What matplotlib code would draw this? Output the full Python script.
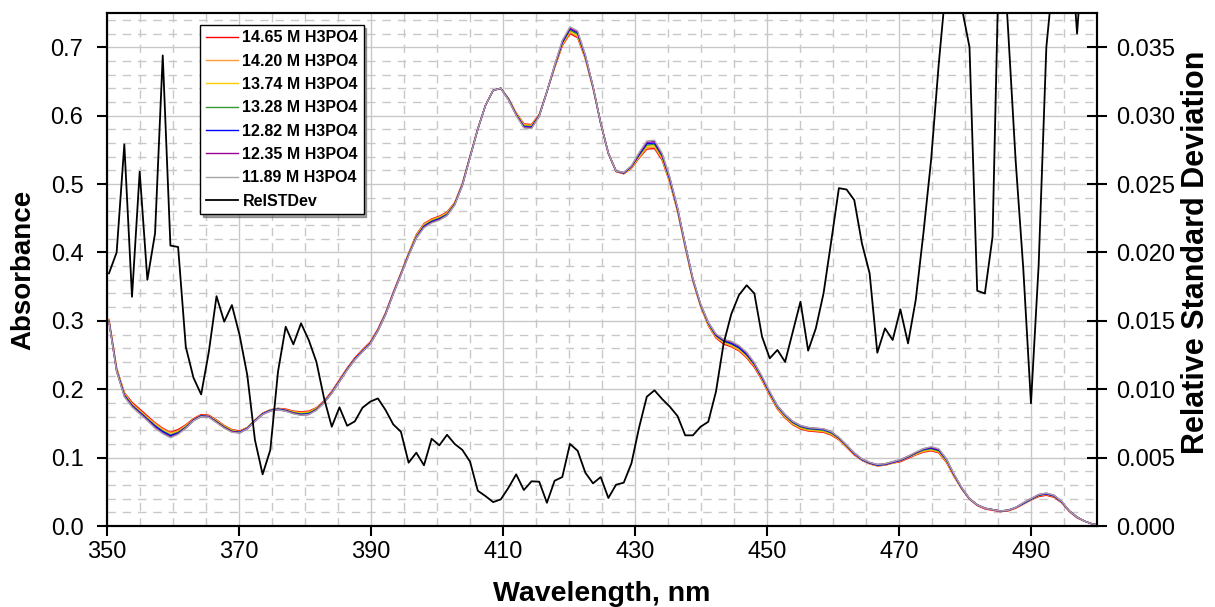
import numpy as np
import matplotlib.pyplot as plt
from matplotlib.ticker import MultipleLocator, FormatStrFormatter

plt.rcParams['font.family'] = ['Liberation Sans', 'DejaVu Sans']

# wavelength grid of the spectrometer, 130 points about 1.164 nm apart
wavelength = np.linspace(350.29, 500.47, 130)

series_labels = ['14.65 M H3PO4', '14.20 M H3PO4', '13.74 M H3PO4', '13.28 M H3PO4',
                 '12.82 M H3PO4', '12.35 M H3PO4', '11.89 M H3PO4']
series_colors = ['#ff0000', '#ff9933', '#ffcc00', '#339933', '#0000ff', '#990099', '#a6a6a6']

abs_1465 = [0.302, 0.231, 0.195, 0.181, 0.171, 0.161, 0.151, 0.143, 0.137, 0.141,
            0.148, 0.157, 0.163, 0.162, 0.155, 0.147, 0.141, 0.139, 0.144, 0.155,
            0.165, 0.170, 0.172, 0.171, 0.168, 0.167, 0.168, 0.173, 0.183, 0.197,
            0.214, 0.231, 0.246, 0.258, 0.269, 0.288, 0.312, 0.342, 0.370, 0.399,
            0.426, 0.442, 0.449, 0.453, 0.459, 0.473, 0.501, 0.541, 0.581, 0.615,
            0.637, 0.640, 0.625, 0.604, 0.588, 0.587, 0.602, 0.635, 0.670, 0.702,
            0.720, 0.714, 0.683, 0.640, 0.588, 0.544, 0.518, 0.515, 0.523, 0.538,
            0.551, 0.552, 0.535, 0.502, 0.460, 0.407, 0.358, 0.321, 0.293, 0.275,
            0.266, 0.262, 0.256, 0.246, 0.232, 0.213, 0.191, 0.171, 0.158, 0.148,
            0.142, 0.139, 0.138, 0.137, 0.133, 0.126, 0.115, 0.104, 0.096, 0.091,
            0.088, 0.089, 0.092, 0.094, 0.099, 0.104, 0.108, 0.110, 0.107, 0.093,
            0.072, 0.054, 0.039, 0.030, 0.025, 0.023, 0.021, 0.022, 0.026, 0.032,
            0.038, 0.043, 0.045, 0.042, 0.034, 0.021, 0.012, 0.007, 0.003, 0.001]

abs_1420 = [0.301, 0.230, 0.194, 0.179, 0.169, 0.159, 0.150, 0.142, 0.136, 0.139,
            0.147, 0.156, 0.162, 0.161, 0.154, 0.146, 0.140, 0.138, 0.144, 0.155,
            0.165, 0.170, 0.172, 0.170, 0.167, 0.166, 0.167, 0.172, 0.182, 0.196,
            0.213, 0.230, 0.245, 0.257, 0.268, 0.287, 0.311, 0.341, 0.369, 0.398,
            0.425, 0.441, 0.448, 0.452, 0.458, 0.472, 0.500, 0.541, 0.580, 0.615,
            0.637, 0.640, 0.625, 0.603, 0.587, 0.586, 0.601, 0.635, 0.671, 0.703,
            0.722, 0.716, 0.684, 0.641, 0.589, 0.545, 0.519, 0.515, 0.524, 0.539,
            0.553, 0.554, 0.537, 0.503, 0.461, 0.408, 0.359, 0.322, 0.294, 0.276,
            0.268, 0.263, 0.257, 0.247, 0.234, 0.214, 0.192, 0.172, 0.159, 0.149,
            0.143, 0.140, 0.139, 0.138, 0.134, 0.127, 0.116, 0.105, 0.096, 0.091,
            0.088, 0.089, 0.092, 0.095, 0.100, 0.105, 0.109, 0.111, 0.108, 0.094,
            0.073, 0.054, 0.040, 0.031, 0.026, 0.024, 0.022, 0.023, 0.027, 0.032,
            0.038, 0.044, 0.046, 0.043, 0.034, 0.022, 0.013, 0.007, 0.003, 0.001]

abs_1374 = [0.301, 0.229, 0.193, 0.178, 0.168, 0.158, 0.148, 0.140, 0.134, 0.138,
            0.146, 0.155, 0.161, 0.160, 0.154, 0.146, 0.140, 0.137, 0.143, 0.154,
            0.164, 0.169, 0.171, 0.169, 0.167, 0.165, 0.166, 0.172, 0.181, 0.195,
            0.212, 0.229, 0.244, 0.256, 0.267, 0.286, 0.310, 0.340, 0.368, 0.398,
            0.424, 0.440, 0.447, 0.451, 0.457, 0.472, 0.499, 0.540, 0.580, 0.615,
            0.637, 0.640, 0.624, 0.603, 0.586, 0.585, 0.600, 0.635, 0.671, 0.705,
            0.723, 0.717, 0.685, 0.642, 0.589, 0.545, 0.519, 0.516, 0.524, 0.541,
            0.555, 0.556, 0.538, 0.505, 0.462, 0.409, 0.359, 0.322, 0.295, 0.277,
            0.269, 0.265, 0.259, 0.249, 0.235, 0.215, 0.193, 0.173, 0.160, 0.150,
            0.144, 0.141, 0.140, 0.139, 0.135, 0.127, 0.116, 0.106, 0.097, 0.092,
            0.089, 0.090, 0.093, 0.096, 0.101, 0.105, 0.110, 0.112, 0.109, 0.095,
            0.073, 0.055, 0.040, 0.031, 0.026, 0.024, 0.022, 0.023, 0.027, 0.033,
            0.039, 0.045, 0.047, 0.044, 0.035, 0.022, 0.013, 0.007, 0.003, 0.001]

abs_1328 = [0.300, 0.228, 0.192, 0.177, 0.167, 0.157, 0.147, 0.139, 0.133, 0.137,
            0.145, 0.155, 0.161, 0.160, 0.153, 0.145, 0.139, 0.137, 0.143, 0.154,
            0.164, 0.169, 0.171, 0.169, 0.166, 0.164, 0.165, 0.171, 0.181, 0.195,
            0.212, 0.229, 0.244, 0.256, 0.267, 0.286, 0.310, 0.340, 0.368, 0.397,
            0.423, 0.439, 0.446, 0.450, 0.456, 0.471, 0.499, 0.540, 0.580, 0.615,
            0.637, 0.640, 0.624, 0.602, 0.585, 0.584, 0.600, 0.635, 0.672, 0.706,
            0.725, 0.719, 0.686, 0.642, 0.589, 0.545, 0.519, 0.516, 0.525, 0.542,
            0.557, 0.558, 0.540, 0.506, 0.463, 0.410, 0.360, 0.323, 0.296, 0.278,
            0.270, 0.266, 0.260, 0.250, 0.236, 0.216, 0.194, 0.174, 0.161, 0.151,
            0.145, 0.142, 0.141, 0.140, 0.136, 0.128, 0.117, 0.106, 0.097, 0.092,
            0.089, 0.090, 0.093, 0.096, 0.101, 0.106, 0.111, 0.113, 0.110, 0.096,
            0.074, 0.055, 0.040, 0.031, 0.026, 0.024, 0.022, 0.023, 0.027, 0.033,
            0.039, 0.045, 0.047, 0.044, 0.035, 0.022, 0.013, 0.007, 0.003, 0.001]

abs_1282 = [0.299, 0.227, 0.191, 0.176, 0.166, 0.156, 0.146, 0.138, 0.132, 0.136,
            0.144, 0.155, 0.161, 0.160, 0.152, 0.144, 0.138, 0.137, 0.143, 0.154,
            0.164, 0.169, 0.171, 0.169, 0.165, 0.163, 0.164, 0.170, 0.181, 0.195,
            0.212, 0.229, 0.244, 0.256, 0.267, 0.286, 0.310, 0.340, 0.368, 0.396,
            0.422, 0.438, 0.445, 0.449, 0.455, 0.470, 0.499, 0.540, 0.580, 0.615,
            0.637, 0.640, 0.624, 0.601, 0.584, 0.583, 0.600, 0.635, 0.673, 0.707,
            0.727, 0.721, 0.687, 0.642, 0.589, 0.545, 0.519, 0.516, 0.526, 0.543,
            0.559, 0.560, 0.542, 0.507, 0.464, 0.411, 0.361, 0.324, 0.297, 0.279,
            0.271, 0.267, 0.261, 0.251, 0.237, 0.217, 0.195, 0.175, 0.162, 0.152,
            0.146, 0.143, 0.142, 0.141, 0.137, 0.129, 0.118, 0.106, 0.097, 0.092,
            0.089, 0.090, 0.093, 0.096, 0.101, 0.107, 0.112, 0.114, 0.111, 0.097,
            0.075, 0.055, 0.040, 0.031, 0.026, 0.024, 0.022, 0.023, 0.027, 0.033,
            0.039, 0.045, 0.047, 0.044, 0.035, 0.022, 0.013, 0.007, 0.003, 0.001]

abs_1235 = [0.299, 0.226, 0.190, 0.175, 0.165, 0.155, 0.144, 0.136, 0.130, 0.135,
            0.143, 0.154, 0.160, 0.159, 0.152, 0.144, 0.138, 0.136, 0.142, 0.153,
            0.163, 0.168, 0.170, 0.168, 0.165, 0.162, 0.163, 0.170, 0.180, 0.194,
            0.211, 0.228, 0.243, 0.255, 0.266, 0.285, 0.309, 0.339, 0.367, 0.396,
            0.421, 0.437, 0.444, 0.448, 0.454, 0.470, 0.498, 0.539, 0.580, 0.615,
            0.637, 0.640, 0.623, 0.601, 0.583, 0.582, 0.599, 0.635, 0.673, 0.709,
            0.728, 0.722, 0.688, 0.643, 0.589, 0.545, 0.519, 0.517, 0.526, 0.545,
            0.561, 0.562, 0.543, 0.509, 0.465, 0.412, 0.361, 0.324, 0.298, 0.280,
            0.272, 0.269, 0.263, 0.253, 0.238, 0.218, 0.196, 0.176, 0.163, 0.153,
            0.147, 0.144, 0.143, 0.142, 0.138, 0.129, 0.118, 0.107, 0.098, 0.093,
            0.090, 0.091, 0.094, 0.097, 0.102, 0.107, 0.113, 0.115, 0.112, 0.098,
            0.075, 0.056, 0.040, 0.031, 0.026, 0.024, 0.022, 0.023, 0.027, 0.034,
            0.040, 0.046, 0.048, 0.045, 0.036, 0.022, 0.013, 0.007, 0.003, 0.001]

abs_1189 = [0.298, 0.226, 0.189, 0.174, 0.164, 0.154, 0.143, 0.135, 0.129, 0.134,
            0.143, 0.154, 0.160, 0.159, 0.151, 0.143, 0.137, 0.136, 0.142, 0.153,
            0.163, 0.168, 0.170, 0.168, 0.164, 0.162, 0.163, 0.169, 0.180, 0.194,
            0.211, 0.228, 0.243, 0.255, 0.266, 0.285, 0.309, 0.339, 0.367, 0.395,
            0.421, 0.436, 0.443, 0.447, 0.454, 0.469, 0.498, 0.539, 0.580, 0.615,
            0.637, 0.640, 0.623, 0.600, 0.582, 0.581, 0.599, 0.635, 0.674, 0.710,
            0.730, 0.724, 0.689, 0.643, 0.589, 0.545, 0.519, 0.517, 0.527, 0.546,
            0.563, 0.564, 0.545, 0.510, 0.466, 0.412, 0.362, 0.325, 0.298, 0.281,
            0.273, 0.270, 0.264, 0.254, 0.239, 0.219, 0.197, 0.176, 0.163, 0.153,
            0.147, 0.144, 0.143, 0.142, 0.138, 0.130, 0.119, 0.107, 0.098, 0.093,
            0.090, 0.091, 0.094, 0.097, 0.102, 0.108, 0.113, 0.116, 0.113, 0.098,
            0.076, 0.056, 0.040, 0.031, 0.026, 0.024, 0.022, 0.023, 0.027, 0.034,
            0.040, 0.046, 0.048, 0.045, 0.036, 0.022, 0.013, 0.007, 0.003, 0.001]

rel_std_dev = [0.01847, 0.0200, 0.0279, 0.01676, 0.0259, 0.0180, 0.0214, 0.0344, 0.0205, 0.0204,
               0.0131, 0.01084, 0.00962, 0.01274, 0.0168, 0.01494, 0.01615, 0.01396, 0.01104, 0.00629,
               0.00378, 0.00556, 0.01128, 0.01457, 0.01328, 0.01482, 0.0136, 0.0120, 0.00933, 0.00726,
               0.00868, 0.00733, 0.00765, 0.00865, 0.00909, 0.00933, 0.00848, 0.00743, 0.00689, 0.00463,
               0.00536, 0.00444, 0.00638, 0.0059, 0.00667, 0.0060, 0.00556, 0.0047, 0.00258, 0.00219,
               0.00175, 0.00195, 0.0028, 0.00378, 0.00263, 0.00327, 0.00324, 0.0017, 0.00331, 0.00358,
               0.0060, 0.0055, 0.0039, 0.00312, 0.00358, 0.00205, 0.00302, 0.00317, 0.00458, 0.00721,
               0.00945, 0.00992, 0.00928, 0.00872, 0.00804, 0.00663, 0.00663, 0.00726, 0.00762, 0.00982,
               0.01335, 0.0155, 0.01689, 0.0176, 0.0170, 0.01384, 0.01226, 0.01287, 0.0120, 0.0142,
               0.0164, 0.01282, 0.01445, 0.0170, 0.0208, 0.0247, 0.0246, 0.02383, 0.02066, 0.01847,
               0.01267, 0.01445, 0.0136, 0.01584, 0.01335, 0.01652, 0.0214, 0.02675, 0.0338, 0.0399,
               0.042, 0.0379, 0.0350, 0.0172, 0.0170, 0.02115, 0.046, 0.0365, 0.02675, 0.0188,
               0.00897, 0.01908, 0.0350, 0.0408, 0.043, 0.044, 0.0360, 0.044, 0.045, 0.045]

spectra = [abs_1465, abs_1420, abs_1374, abs_1328, abs_1282, abs_1235, abs_1189]

fig = plt.figure(figsize=(12.15, 6.07), dpi=100)
ax = fig.add_axes([0.0881, 0.1334, 0.8148, 0.8451])

handles = []
for values, label, color in zip(spectra, series_labels, series_colors):
    line, = ax.plot(wavelength, values, color=color, lw=1.0, label=label)
    handles.append(line)

ax.set_xlim(350, 500)
ax.set_ylim(0, 0.75)
ax.set_xticks(np.arange(350, 501, 20))
ax.xaxis.set_minor_locator(MultipleLocator(5))
ax.yaxis.set_major_locator(MultipleLocator(0.1))
ax.yaxis.set_minor_locator(MultipleLocator(0.02))
ax.yaxis.set_major_formatter(FormatStrFormatter('%.1f'))

# Excel style grid: solid major lines, dashed minor lines
ax.grid(which='major', color='#c8c8c8', lw=1.0, ls='-')
ax.grid(which='minor', color='#c8c8c8', lw=1.0, ls=(0, (6, 5)))
ax.set_axisbelow(True)
ax.tick_params(which='minor', length=0)
ax.tick_params(which='major', direction='out', length=7, width=1.5, colors='black')
ax.tick_params(axis='x', labelsize=17, pad=4)
ax.tick_params(axis='y', labelsize=17, pad=10)

ax.set_xlabel('Wavelength, nm', fontsize=20.5, fontweight='bold', labelpad=13)
ax.set_ylabel('Absorbance', fontsize=20, fontweight='bold', labelpad=10)

# relative standard deviation on the secondary axis
ax2 = ax.twinx()
rsd_line, = ax2.plot(wavelength, rel_std_dev, color='black', lw=1.3, label='RelSTDev')
handles.append(rsd_line)
ax2.set_ylim(0, 0.0375)
ax2.yaxis.set_major_locator(MultipleLocator(0.005))
ax2.yaxis.set_major_formatter(FormatStrFormatter('%.3f'))
ax2.tick_params(which='major', direction='inout', length=14, width=1.5, labelsize=17, pad=7)
ax2.set_ylabel('Relative Standard Deviation', fontsize=22, fontweight='bold')
ax2.yaxis.set_label_coords(1.0848, 0.534)

for a in (ax, ax2):
    for spine in a.spines.values():
        spine.set_linewidth(1.5)
        spine.set_color('black')

leg = ax2.legend(handles=handles, loc='upper left', bbox_to_anchor=(0.094, 0.977),
                 borderaxespad=0, prop={'weight': 'bold', 'size': 11.5},
                 frameon=True, fancybox=False, shadow=True, edgecolor='black',
                 framealpha=1, handlelength=2.0, handletextpad=0.3,
                 labelspacing=0.52, borderpad=0.35)
leg.get_frame().set_linewidth(1.0)

fig.savefig('out.png', dpi=100)
